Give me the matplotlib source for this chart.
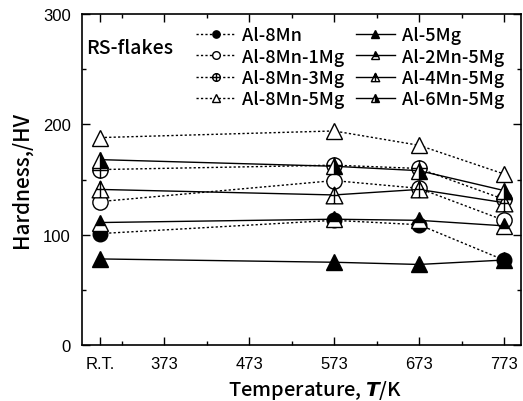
import numpy as np
import matplotlib
matplotlib.use("Agg")
import matplotlib.pyplot as plt
from matplotlib.path import Path

# temperatures (K); R.T. taken as 298 K
temps = [298, 573, 673, 773]
tick_pos = [298, 373, 473, 573, 673, 773]
tick_lbl = ["R.T.", "373", "473", "573", "673", "773"]

# hardness HV
al_8mn = [101, 113, 109, 77]
al_8mn_1mg = [130, 149, 142, 113]
al_8mn_3mg = [159, 163, 160, 132]
al_8mn_5mg = [188, 194, 181, 155]
al_5mg = [78, 75, 73, 77]
al_2mn_5mg = [111, 114, 113, 108]
al_4mn_5mg = [141, 136, 141, 129]
al_6mn_5mg = [168, 162, 158, 140]

# special markers
circ_cross = Path.make_compound_path(
    Path.unit_circle(),
    Path([(-1, 0), (1, 0)]),
    Path([(0, -1), (0, 1)]),
)
tri_cross = Path.make_compound_path(
    Path([(0, 1), (-1, -1), (1, -1), (0, 1)],
         [Path.MOVETO, Path.LINETO, Path.LINETO, Path.CLOSEPOLY]),
    Path([(0, 1), (0, -1)]),
    Path([(-0.5, 0), (0.5, 0)]),
)

jp = ["Noto Sans CJK JP", "DejaVu Sans"]

fig = plt.figure(figsize=(5.23, 4.02), dpi=100)
ax = fig.add_axes([82 / 523, 1 - 346 / 402, 439 / 523, 331 / 402])

dot = (0, (1.6, 1.6))
kw = dict(color="black", lw=1.0, mec="black", mew=1.0)

series = [
    (al_8mn, "Al-8Mn", dot, dict(marker="o", ms=10.5, mfc="black")),
    (al_8mn_1mg, "Al-8Mn-1Mg", dot, dict(marker="o", ms=11, mfc="white")),
    (al_8mn_3mg, "Al-8Mn-3Mg", dot, dict(marker=circ_cross, ms=11, mfc="white")),
    (al_8mn_5mg, "Al-8Mn-5Mg", dot, dict(marker="^", ms=12, mfc="white")),
    (al_5mg, "Al-5Mg", "-", dict(marker="^", ms=12, mfc="black")),
    (al_2mn_5mg, "Al-2Mn-5Mg", "-", dict(marker="^", ms=12, mfc="black",
                                          fillstyle="top", markerfacecoloralt="white")),
    (al_4mn_5mg, "Al-4Mn-5Mg", "-", dict(marker=tri_cross, ms=12, mfc="white")),
    (al_6mn_5mg, "Al-6Mn-5Mg", "-", dict(marker="^", ms=12, mfc="black",
                                          fillstyle="right", markerfacecoloralt="white")),
]

for vals, name, ls, mk in series:
    ax.plot(temps, vals, ls=ls, label=name, **kw, **mk)

ax.set_xlim(276.5, 793)
ax.set_ylim(0, 300)
ax.set_xticks(tick_pos)
ax.set_xticklabels(tick_lbl)
ax.set_xticks([323, 423, 523, 623, 723], minor=True)
ax.set_yticks([0, 100, 200, 300])
ax.set_yticks([50, 150, 250], minor=True)
ax.tick_params(which="both", direction="in", top=True, right=True, width=1.0)
ax.tick_params(which="major", length=6, pad=8)
ax.tick_params(which="minor", length=3)
for lab in ax.get_xticklabels() + ax.get_yticklabels():
    lab.set_fontfamily("Liberation Sans")
    lab.set_fontsize(12)
for sp in ax.spines.values():
    sp.set_linewidth(1.2)

ax.set_ylabel("Hardness,/HV", family=jp, fontsize=15, weight="medium")
ax.yaxis.set_label_coords(-0.113, 0.5)
ax.set_xlabel(r"Temperature, $\mathbfit{T}$/K", family=jp, fontsize=14.5,
              weight="medium")
ax.xaxis.set_label_coords(0.53, -0.1)

ax.text(0.01, 0.9, "RS-flakes", transform=ax.transAxes, family=jp,
        fontsize=14, weight="medium", va="center", ha="left")

ax.legend(ncol=2, frameon=False, loc="upper left", bbox_to_anchor=(0.24, 0.99),
          prop=dict(family=jp, size=13, weight="medium"), markerscale=0.5,
          handlelength=2.2, handletextpad=0.35, columnspacing=0.6,
          labelspacing=0.18, borderpad=0)

fig.savefig("out.png", dpi=100)
